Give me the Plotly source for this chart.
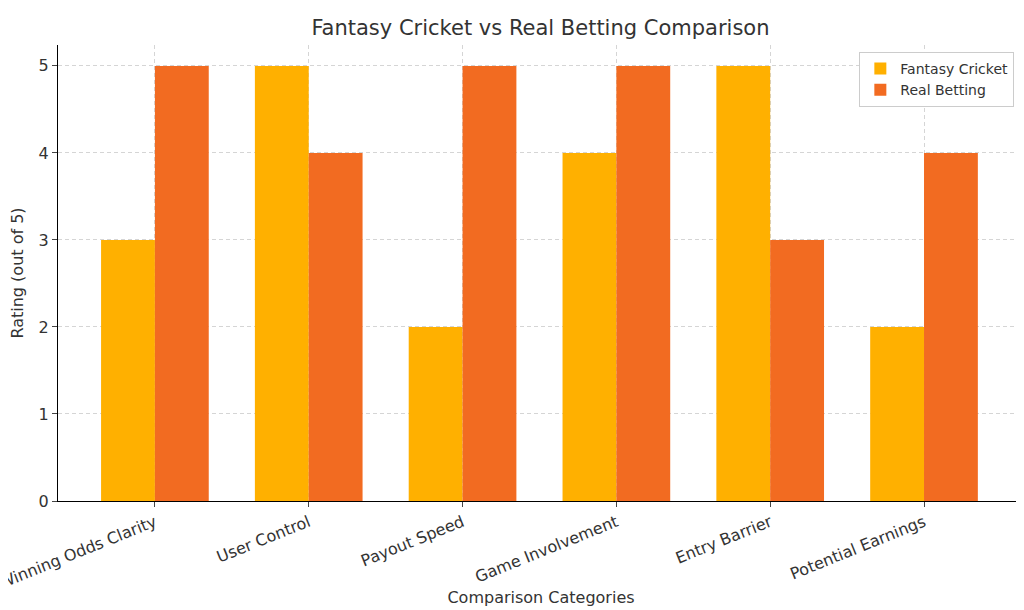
import plotly.graph_objects as go

categories = ["Winning Odds Clarity", "User Control", "Payout Speed", "Game Involvement", "Entry Barrier", "Potential Earnings"]
fantasy = [3, 5, 2, 4, 5, 2]
real = [5, 4, 5, 5, 3, 4]
x = list(range(len(categories)))

fig = go.Figure()
fig.add_bar(x=x, y=fantasy, name="Fantasy Cricket", marker=dict(color="#FFB000", line=dict(width=0)), offset=-0.35, width=0.35)
fig.add_bar(x=x, y=real, name="Real Betting", marker=dict(color="#F26B21", line=dict(width=0)), offset=0, width=0.35)

fig.update_layout(
    width=1024, height=610, plot_bgcolor="white", paper_bgcolor="white",
    font=dict(family="DejaVu Sans", size=15, color="#333"),
    title=dict(text="Fantasy Cricket vs Real Betting Comparison", x=0.52, xanchor="center",
               yref="container", y=0.967, yanchor="middle", font=dict(size=21)),
    margin=dict(l=50, r=8, t=37, b=117),
    legend=dict(x=0.99, y=0.985, xanchor="right", yanchor="top", bordercolor="#ccc", borderwidth=1, font=dict(size=14)),
    xaxis=dict(tickmode="array", tickvals=x, ticktext=categories, tickangle=-22, range=[-0.63, 5.65],
               showgrid=True, gridcolor="#d5d5d5", griddash="4px,3px", showline=True, linecolor="black",
               ticks="outside", ticklen=5, tickfont=dict(size=16), automargin=False, ticklabeloverflow="allow",
               title=dict(text="Comparison Categories", font=dict(size=16), standoff=0)),
    yaxis=dict(range=[0, 5.24], dtick=1, showgrid=True, gridcolor="#d5d5d5", griddash="4px,3px", showline=True,
               linecolor="black", ticks="outside", ticklen=5, zeroline=False, tickfont=dict(size=16), automargin=False,
               title=dict(text="Rating (out of 5)", font=dict(size=16))),
)
fig.write_html("out.html")
